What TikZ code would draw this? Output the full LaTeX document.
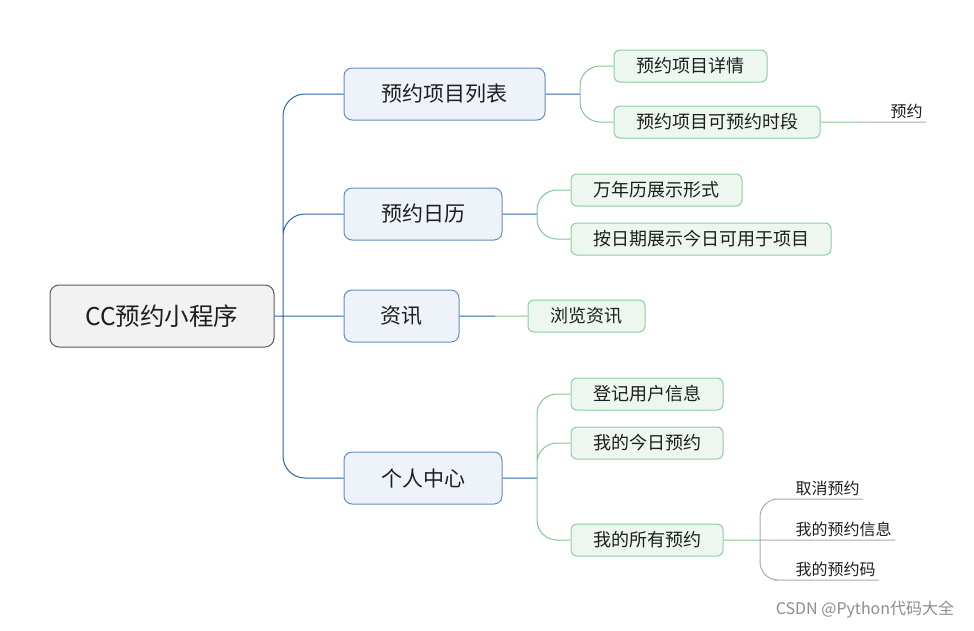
\documentclass[tikz,border=0pt]{standalone}
\usepackage{fontspec}
\usepackage{tikz}
\setmainfont{Noto Sans CJK SC}
\definecolor{rootdraw}{RGB}{90,90,90}
\definecolor{rootfill}{RGB}{242,242,242}
\definecolor{topdraw}{RGB}{98,140,196}
\definecolor{topfill}{RGB}{238,243,250}
\definecolor{topline}{RGB}{46,100,168}
\definecolor{subdraw}{RGB}{141,205,160}
\definecolor{subfill}{RGB}{237,246,239}
\definecolor{subline}{RGB}{130,198,150}
\definecolor{leafline}{RGB}{170,170,170}
\definecolor{txt}{RGB}{30,30,30}

\begin{document}
\begin{tikzpicture}[x=1pt,y=-1pt,line width=1pt,text=txt]
  \tikzstyle{root}=[draw=rootdraw,fill=rootfill,rounded corners=9pt,
                    minimum width=224pt,minimum height=62pt,inner sep=0pt,
                    font=\fontsize{24.5}{28}\selectfont]
  \tikzstyle{topic}=[draw=topdraw,fill=topfill,rounded corners=8pt,
                     minimum height=52pt,inner sep=0pt,
                     font=\fontsize{21}{24}\selectfont]
  \tikzstyle{subtopic}=[draw=subdraw,fill=subfill,rounded corners=6pt,
                        minimum height=32pt,inner sep=0pt,
                        font=\fontsize{18}{21}\selectfont]
  \tikzstyle{leaf}=[anchor=south west,inner xsep=3pt,inner ysep=3pt,
                    font=\fontsize{16}{18}\selectfont]
  \tikzstyle{toplink}=[draw=topline,rounded corners=22pt]
  \tikzstyle{sublink}=[draw=subline,rounded corners=20pt]
  \tikzstyle{leaflink}=[draw=leafline,rounded corners=18pt]

  \useasboundingbox (0,0) rectangle (974,630);

  % root and main topics
  \node[root] (cc) at (162,316) {CC预约小程序};
  \node[topic,minimum width=201pt] (lb) at (444.5,94)  {预约项目列表};
  \node[topic,minimum width=158pt] (rl) at (423,214)   {预约日历};
  \node[topic,minimum width=115pt] (zx) at (401.5,316) {资讯};
  \node[topic,minimum width=158pt] (gr) at (423,478)   {个人中心};

  % subtopics
  \node[subtopic,minimum width=153pt] (xq) at (690.5,66) {预约项目详情};
  \node[subtopic,minimum width=206pt] (sd) at (717,122)  {预约项目可预约时段};
  \node[subtopic,minimum width=171pt] (wn) at (656.5,190) {万年历展示形式};
  \node[subtopic,minimum width=260pt] (ar) at (701,239)  {按日期展示今日可用于项目};
  \node[subtopic,minimum width=117pt] (ll) at (586.5,316) {浏览资讯};
  \node[subtopic,minimum width=152pt] (dj) at (647,394)  {登记用户信息};
  \node[subtopic,minimum width=152pt] (jr) at (647,443)  {我的今日预约};
  \node[subtopic,minimum width=152pt] (sy) at (647,540)  {我的所有预约};

  % leaves
  \node[leaf] (yy) at (887,122) {预约};
  \node[leaf] (qx) at (792,499) {取消预约};
  \node[leaf] (xx) at (792,540) {我的预约信息};
  \node[leaf] (ym) at (792,580) {我的预约码};

  \node[font=\fontsize{16}{19}\selectfont,text=black!45,anchor=east] (wm)
       at (958,610) {CSDN @Python代码大全};

  % branch points
  \coordinate (tr) at (283,316);
  \coordinate (b1) at (580,94);
  \coordinate (b2) at (537,214);
  \coordinate (b3) at (495,316);
  \coordinate (b4) at (537,478);
  \coordinate (yb) at (858,122);
  \coordinate (b5) at (760,540);

  \path[toplink] (cc.east) -- (zx.west)
                 (tr) |- (lb.west)
                 (tr) |- (rl.west)
                 (tr) |- (gr.west)
                 (lb.east) -- (b1)
                 (rl.east) -- (b2)
                 (zx.east) -- (b3)
                 (gr.east) -- (b4);
  \path[sublink] (b1) |- (xq.west)
                 (b1) |- (sd.west)
                 (b2) |- (wn.west)
                 (b2) |- (ar.west)
                 (b3) -- (ll.west)
                 (b4) |- (dj.west)
                 (b4) |- (jr.west)
                 (b4) |- (sy.west)
                 (sd.east) -- (yb)
                 (sy.east) -- (b5);
  \path[leaflink] (yb) -- (yy.south west) -- (yy.south east)
                  (b5) |- (qx.south west) -- (qx.south east)
                  (b5) -- (xx.south west) -- (xx.south east)
                  (b5) |- (ym.south west) -- (ym.south east);
\end{tikzpicture}
\end{document}
